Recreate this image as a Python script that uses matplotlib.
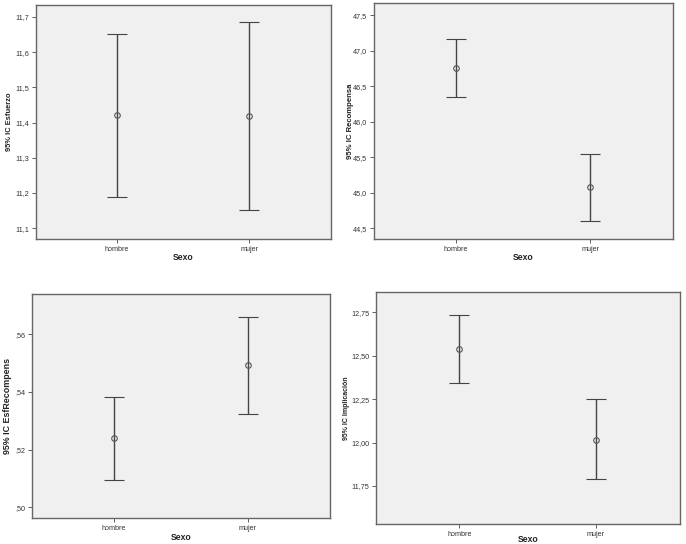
import matplotlib
matplotlib.use('Agg')
import matplotlib.pyplot as plt

plt.rcParams['font.family'] = ['Liberation Sans', 'DejaVu Sans']

sexo = ['hombre', 'mujer']

# medias e intervalos de confianza al 95%
esfuerzo_media = [11.420, 11.418]
esfuerzo_inf = [11.189, 11.150]
esfuerzo_sup = [11.651, 11.685]
esfuerzo_ticks = [11.1, 11.2, 11.3, 11.4, 11.5, 11.6, 11.7]
esfuerzo_labels = ['11,1', '11,2', '11,3', '11,4', '11,5', '11,6', '11,7']

recomp_media = [46.762, 45.077]
recomp_inf = [46.345, 44.603]
recomp_sup = [47.170, 45.546]
recomp_ticks = [44.5, 45.0, 45.5, 46.0, 46.5, 47.0, 47.5]
recomp_labels = ['44,5', '45,0', '45,5', '46,0', '46,5', '47,0', '47,5']

esfrec_media = [0.5239, 0.5493]
esfrec_inf = [0.5094, 0.5324]
esfrec_sup = [0.5383, 0.5660]
esfrec_ticks = [0.50, 0.52, 0.54, 0.56]
esfrec_labels = [',50', ',52', ',54', ',56']

implic_media = [12.540, 12.017]
implic_inf = [12.346, 11.790]
implic_sup = [12.735, 12.250]
implic_ticks = [11.75, 12.00, 12.25, 12.50, 12.75]
implic_labels = ['11,75', '12,00', '12,25', '12,50', '12,75']

W, H = 686, 544
fig = plt.figure(figsize=(W / 100, H / 100), dpi=100)

'''
un panel por variable: (caja en pixeles, datos, limites y, etiqueta)
'''
paneles = [
    ((36, 5, 331, 239), esfuerzo_media, esfuerzo_inf, esfuerzo_sup,
     esfuerzo_ticks, esfuerzo_labels, (11.069, 11.734), '95% IC Esfuerzo', 5.4, 10, 258),
    ((374, 3, 673, 239), recomp_media, recomp_inf, recomp_sup,
     recomp_ticks, recomp_labels, (44.349, 47.673), '95% IC Recompensa', 5.6, 350, 258),
    ((32, 294, 330, 518), esfrec_media, esfrec_inf, esfrec_sup,
     esfrec_ticks, esfrec_labels, (0.4963, 0.574), '95% IC EsfRecompens', 6.4, 8, 538),
    ((376, 292, 680, 524), implic_media, implic_inf, implic_sup,
     implic_ticks, implic_labels, (11.531, 12.868), '95% IC Implicación', 5.0, 346, 539),
]

for caja, media, inf, sup, ticks, labels, ylim, ylabel, fs, ylx, sexo_y in paneles:
    x0, y0, x1, y1 = caja
    ax = fig.add_axes([x0 / W, 1 - y1 / H, (x1 - x0) / W, (y1 - y0) / H])
    ax.set_facecolor('#f0f0f0')
    pos = list(range(len(sexo)))
    err = [[m - l for m, l in zip(media, inf)], [s - m for m, s in zip(media, sup)]]
    ax.errorbar(pos, media, yerr=err, fmt='o', color='#444444', ecolor='#444444',
                elinewidth=1.0, capsize=7.5, capthick=1.0, markersize=4,
                markerfacecolor='none', markeredgecolor='#555555', markeredgewidth=0.8)
    ax.set_xlim(-0.61, 1.615)
    ax.set_ylim(*ylim)
    ax.set_xticks(pos)
    ax.set_xticklabels(sexo, fontsize=5.2, color='#333333')
    ax.set_yticks(ticks)
    ax.set_yticklabels(labels, fontsize=5.2, color='#333333')
    ax.tick_params(axis='both', length=3, width=0.6, color='#444444', pad=2)
    for s in ax.spines.values():
        s.set_color('#666666')
        s.set_linewidth(1.0)
    # titulos de los ejes
    cx = (x0 + x1) / 2
    fig.text(cx / W, 1 - sexo_y / H, 'Sexo', fontsize=6.2, fontweight='bold',
             ha='center', va='center', color='#222222')
    fig.text(ylx / W, 1 - ((y0 + y1) / 2) / H, ylabel, fontsize=fs, fontweight='bold',
             rotation=90, ha='center', va='center', color='#222222')

fig.savefig('out.png', dpi=100, facecolor='white')
